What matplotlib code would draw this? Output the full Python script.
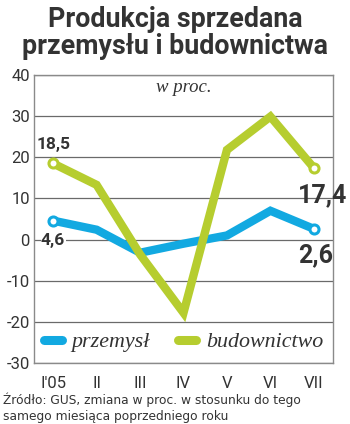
import matplotlib
matplotlib.use("Agg")
import matplotlib.pyplot as plt
from matplotlib.lines import Line2D

months = ["I'05", "II", "III", "IV", "V", "VI", "VII"]
przemysl = [4.6, 2.4, -3.2, -1.0, 1.0, 7.0, 2.6]
budownictwo = [18.5, 13.3, -3.6, -17.8, 21.8, 29.9, 17.4]
yticks = [40, 30, 20, 10, 0, -10, -20, -30]

blue = "#12a9e1"
green = "#b6cd2f"
dark = "#333333"

fig = plt.figure(figsize=(3.5, 4.24), dpi=100)
ax = fig.add_axes([34/350, 1-363/424, (333-34)/350, (363-75)/424])

x = list(range(len(months)))
for yv in yticks:
    ax.axhline(yv, color="#6a6a6a", lw=0.9, zorder=1)
ax.plot(x, przemysl, color=blue, lw=6, solid_capstyle="butt", solid_joinstyle="miter", zorder=3)
ax.plot(x, budownictwo, color=green, lw=6, solid_capstyle="butt", solid_joinstyle="miter", zorder=3)
for ser, c in ((przemysl, blue), (budownictwo, green)):
    ax.plot([x[0], x[-1]], [ser[0], ser[-1]], "o", ms=6.5, mfc="white", mec=c, mew=2.2, zorder=4)

ax.set_xlim(-0.44, 6.44)
ax.set_ylim(-30, 40)
ax.set_yticks(yticks)
ax.set_yticklabels([str(v) for v in yticks])
ax.set_xticks(x)
ax.set_xticklabels(months)
ax.tick_params(axis="both", length=0, labelsize=12, colors=dark, labelcolor=dark)
ax.tick_params(axis="y", pad=3)
ax.tick_params(axis="x", pad=9)
for lab in ax.get_xticklabels() + ax.get_yticklabels():
    lab.set_fontfamily("Roboto")
for s in ax.spines.values():
    s.set_color("#8a8a8a")
    s.set_linewidth(1.0)

ax.text(0.5, 0.955, "w proc.", transform=ax.transAxes, ha="center", va="center",
        fontsize=13.5, fontstyle="italic", family="Liberation Serif", color=dark)

ax.text(0.0, 21.3, "18,5", ha="center", va="bottom", fontsize=12.5, fontweight="bold", color=dark, family="Roboto")
ax.text(0.0, -0.2, "4,6", ha="center", va="center", fontsize=12.5, fontweight="bold", color=dark, family="Roboto",
        bbox=dict(facecolor="white", edgecolor="none", pad=0.3))
ax.text(6.2, 7.8, "17,4", ha="center", va="bottom", fontsize=18, fontweight="bold", color=dark, family="Roboto")
ax.text(6.05, -0.8, "2,6", ha="center", va="top", fontsize=18, fontweight="bold", color=dark, family="Roboto")

handles = [Line2D([], [], color=blue, lw=6.5, solid_capstyle="round"),
           Line2D([], [], color=green, lw=6.5, solid_capstyle="round")]
leg = ax.legend(handles, ["przemysł", "budownictwo"], loc="center", bbox_to_anchor=(0.5, 21/288),
                ncol=2, frameon=False, handlelength=0.8, columnspacing=1.3, handletextpad=0.45,
                borderpad=0.0, prop={"family": "Liberation Serif", "style": "italic", "size": 15.8})
for t in leg.get_texts():
    t.set_color(dark)

fig.text(0.5, 0.985, "Produkcja sprzedana\nprzemysłu i budownictwa", ha="center", va="top",
         fontsize=19.3, fontweight="bold", color=dark, family="Roboto", linespacing=1.0)
fig.text(0.008, 1-404/424, "Źródło: GUS, zmiana w proc. w stosunku do tego",
         ha="left", va="baseline", fontsize=8.8, color=dark, family="DejaVu Sans")
fig.text(0.008, 1-420/424, "samego miesiąca poprzedniego roku",
         ha="left", va="baseline", fontsize=8.8, color=dark, family="DejaVu Sans")

fig.savefig("out.png", dpi=100, facecolor="white")
